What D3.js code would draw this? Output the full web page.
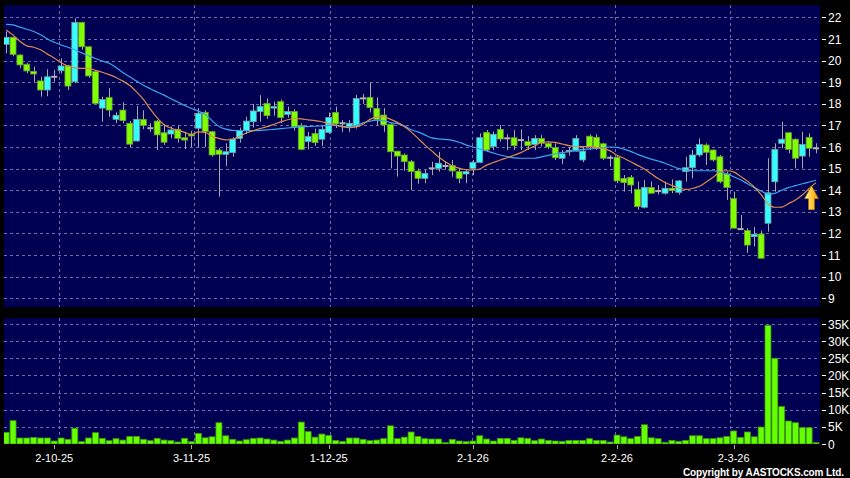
<!DOCTYPE html>
<html><head><meta charset="utf-8">
<script src="https://cdn.jsdelivr.net/npm/d3@7/dist/d3.min.js"></script>
<style>html,body{margin:0;padding:0;background:#000;}svg{display:block;}</style>
</head><body>
<svg id="chart" width="850" height="478"></svg>
<script>
// ---------- data ----------
const openP  = [20.75,21.08,20.26,19.83,19.5,19.06,18.64,19.25,19.53,19.76,19.02,21.77,20.64,19.49,17.8,18.3,17.28,17.71,17.1,16.28,17.28,16.87,17.2,16.66,16.6,16.82,16.43,16.6,16.87,17.6,
16.71,15.86,15.66,15.74,16.4,16.76,17.17,17.64,18.02,17.8,18.1,17.51,17.64,16.99,16.25,16.63,16.36,16.68,17.6,17.1,16.94,16.94,18.25,18.3,17.79,17.48,17.05,15.81,15.63,15.32,
14.89,14.55,15.01,15.01,15.12,15.14,14.86,14.75,15.01,15.29,16.68,16.02,16.82,16.4,16.43,16.32,16.25,16.12,16.4,16.17,15.98,15.48,15.81,15.81,15.4,16.5,16.45,16.15,15.5,15.52,
14.55,14.6,14.04,13.21,14.13,13.96,13.86,14.09,13.9,14.86,15.04,15.63,16.09,15.86,15.55,14.75,13.62,12.2,12.13,11.85,11.97,12.47,14.39,16.17,16.66,16.36,15.58,16.45,15.94];
const highP  = [21.34,21.1,20.3,19.9,19.72,19.25,19.6,19.57,20.1,19.8,21.96,21.8,20.66,19.5,18.33,18.72,17.6,18.07,17.2,17.9,17.7,17.1,17.25,17.07,16.95,17.0,16.7,16.75,17.8,17.7,
16.75,15.95,16.17,16.45,16.9,17.4,18.0,18.4,18.25,18.1,18.2,17.87,17.75,17.1,16.7,16.85,17.02,17.6,17.87,17.25,17.25,18.41,18.45,18.98,18.3,17.8,17.1,15.81,15.7,15.4,
15.0,14.95,15.32,15.78,15.3,15.4,15.01,14.95,15.4,16.63,16.79,16.72,17.02,16.59,16.79,16.82,16.5,16.55,16.55,16.25,16.17,15.86,16.0,16.55,16.0,16.59,16.59,16.2,15.62,15.62,
14.7,14.7,14.4,14.47,14.4,14.24,14.4,14.5,14.47,15.55,15.86,16.4,16.17,15.89,15.63,14.86,13.93,12.85,12.24,12.3,12.13,15.48,16.17,17.17,16.7,16.4,16.7,16.63,16.17];
const lowP   = [20.34,20.2,19.65,19.41,19.02,18.33,18.35,19.03,19.41,18.64,18.95,20.5,19.2,18.0,17.17,17.4,17.1,17.1,16.0,16.25,16.83,16.7,15.86,16.1,16.4,16.2,15.9,16.0,16.0,16.0,
15.55,13.7,15.12,15.55,16.2,16.6,16.9,17.17,17.3,17.45,17.1,17.36,16.76,15.85,15.89,16.05,16.05,16.6,16.88,16.7,16.7,16.85,18.0,17.6,17.0,16.7,15.01,14.63,14.9,14.0,
14.3,14.32,14.7,14.86,14.95,14.62,14.32,14.32,14.7,15.25,15.78,15.86,16.25,15.86,15.86,15.86,15.86,15.86,16.02,15.9,15.4,15.2,15.6,15.78,15.3,15.86,15.86,15.4,15.09,14.32,
13.93,13.86,13.1,13.16,13.86,13.8,13.8,13.86,13.8,14.4,14.55,15.55,15.17,15.32,14.32,13.55,12.24,12.16,11.1,11.4,10.85,12.08,13.93,15.94,15.71,15.01,15.01,15.55,15.71];
const closeP = [21.08,20.29,19.8,19.52,19.38,18.64,19.25,19.25,19.75,18.82,21.77,20.64,19.29,18.02,18.2,17.71,17.47,17.22,16.13,17.28,17.0,16.87,16.56,16.22,16.79,16.4,16.32,16.51,17.56,16.71,
15.63,15.66,15.78,16.37,16.76,17.2,17.67,17.87,17.45,17.87,17.36,17.64,16.94,15.89,16.48,16.2,16.82,17.37,17.07,17.1,17.1,18.25,18.25,17.82,17.28,17.02,15.78,15.58,15.32,14.86,
14.55,14.78,15.01,15.25,15.12,14.89,14.55,14.86,15.29,16.43,15.86,16.59,16.37,16.4,16.06,16.32,16.06,16.4,16.17,16.0,15.5,15.68,15.81,16.4,15.81,16.02,15.96,15.48,15.5,14.43,
14.35,14.24,13.24,14.13,13.86,13.96,14.09,13.98,14.43,15.04,15.63,16.12,15.75,15.4,14.39,14.13,12.24,12.2,11.46,11.96,10.85,13.88,15.89,16.36,15.89,15.48,16.12,15.94,15.94];
const volumeK = [3.4,6.8,1.75,1.75,1.9,1.75,1.75,0.87,1.75,1.35,4.6,0.68,1.75,3.3,1.65,0.97,1.55,1.15,2.2,2.2,1.35,0.97,1.65,1.15,0.97,0.58,1.65,0.68,3.1,1.8,
2.1,6.2,2.4,1.35,0.87,1.25,1.65,1.75,1.45,1.15,0.78,1.15,1.75,6.4,3.6,2.0,2.9,2.5,1.05,0.78,1.75,1.75,1.35,0.97,1.15,1.55,5.3,1.55,2.0,3.5,
2.2,1.55,1.45,1.45,0.39,1.35,0.87,0.68,0.87,2.4,1.45,0.87,1.65,1.65,1.05,1.8,1.65,0.97,1.45,1.05,0.87,0.78,1.05,1.05,1.05,1.55,1.05,1.05,0.58,2.6,
2.1,1.55,2.2,5.6,1.8,1.55,0.49,1.05,0.78,1.05,2.4,2.4,1.55,1.55,1.8,2.2,3.8,1.9,3.5,2.1,4.95,34.6,25.0,10.9,6.7,6.2,4.75,4.75,0.39];
const maShort = [21.42,21.18,20.9,20.68,20.62,20.5,20.3,20.12,19.9,19.75,19.66,19.64,19.64,19.55,19.46,19.35,19.22,19.05,18.85,18.55,18.2,17.75,17.35,17.03,16.88,16.78,16.68,16.58,16.7,16.68,
16.5,16.4,16.33,16.36,16.5,16.65,16.76,16.85,16.94,17.05,17.16,17.26,17.32,17.3,17.26,17.22,17.17,17.08,17.0,16.93,16.9,16.93,17.05,17.28,17.38,17.4,17.28,17.14,16.95,16.7,
16.4,16.1,15.82,15.54,15.32,15.12,15.02,14.95,14.94,14.98,15.16,15.28,15.4,15.5,15.62,15.74,15.9,16.05,16.22,16.24,16.21,16.14,16.06,16.02,16.02,16.02,15.98,15.92,15.82,15.62,
15.48,15.32,15.15,14.98,14.76,14.54,14.36,14.22,14.1,14.04,14.08,14.18,14.38,14.6,14.84,14.9,14.85,14.64,14.42,14.15,13.8,13.37,13.21,13.22,13.38,13.55,13.78,14.08,14.35];
const maLong = [21.68,21.65,21.55,21.45,21.35,21.2,21.0,20.85,20.72,20.62,20.5,20.36,20.23,20.1,19.98,19.88,19.68,19.45,19.25,19.05,18.86,18.7,18.55,18.4,18.23,18.08,17.92,17.78,17.66,17.5,
17.22,16.95,16.83,16.77,16.76,16.76,16.76,16.77,16.79,16.82,16.85,16.88,16.91,16.94,16.95,16.96,16.98,17.0,17.01,16.96,16.95,17.0,17.12,17.2,17.24,17.22,17.13,17.08,16.98,16.8,
16.7,16.56,16.42,16.38,16.35,16.31,16.22,16.1,16.0,15.9,15.82,15.72,15.63,15.56,15.5,15.48,15.48,15.48,15.54,15.61,15.68,15.74,15.79,15.84,15.89,15.91,15.94,15.97,16.0,15.98,
15.9,15.8,15.66,15.54,15.44,15.35,15.25,15.12,15.0,14.94,14.9,14.9,14.9,14.9,14.84,14.76,14.62,14.48,14.3,14.12,13.96,13.82,13.85,14.0,14.12,14.21,14.3,14.38,14.46];
const priceTicks = [9,10,11,12,13,14,15,16,17,18,19,20,21,22];
const volTicks = [0,5,10,15,20,25,30,35];
const volTickLabels = ["0","5K","10K","15K","20K","25K","30K","35K"];
const dateTickIndex = [7,27,47,68,89,106];
const dateTickLabels = ["2-10-25","3-11-25","1-12-25","2-1-26","2-2-26","2-3-26"];
const copyrightText = "Copyright by AASTOCKS.com Ltd.";

// ---------- layout ----------
const svg = d3.select("#chart");
const panelL = 4, panelR = 820;
const mainTop = 5, mainBot = 307, volTop = 318, volBot = 444;
const idx = d3.range(closeP.length);
const x = d3.scaleBand().domain(idx).range([3.2, 819]).paddingInner(0.13);
const cx = i => x(i) + x.bandwidth() / 2;
const gridX = d3.scaleLinear().domain([0, idx.length - 1]).range([11.2, 811.3]);
const y = d3.scaleLinear().domain([9, 22]).range([298.2, 17.4]);
const yv = d3.scaleLinear().domain([0, 35]).range([444, 324]);

const navy = "#000052", gridCol = "#6e6ea6";
const upCol = "#33ffff", dnCol = "#80ff00";

svg.append("rect").attr("width", 850).attr("height", 478).attr("fill", "#000");
svg.append("rect").attr("x", panelL).attr("y", mainTop).attr("width", panelR - panelL).attr("height", mainBot - mainTop).attr("fill", navy);
svg.append("rect").attr("x", panelL).attr("y", volTop).attr("width", panelR - panelL).attr("height", volBot - volTop).attr("fill", navy);

const defs = svg.append("defs");
defs.append("clipPath").attr("id", "clipMain").append("rect")
  .attr("x", panelL).attr("y", mainTop).attr("width", panelR - panelL).attr("height", mainBot - mainTop);
defs.append("clipPath").attr("id", "clipVol").append("rect")
  .attr("x", panelL).attr("y", volTop).attr("width", panelR - panelL).attr("height", volBot - volTop);
const grad = defs.append("linearGradient").attr("id", "arrowGrad").attr("x1", "0").attr("x2", "1").attr("y1", "0").attr("y2", "0");
grad.append("stop").attr("offset", "0%").attr("stop-color", "#fff3b0");
grad.append("stop").attr("offset", "55%").attr("stop-color", "#ffc733");
grad.append("stop").attr("offset", "100%").attr("stop-color", "#e89400");

// grid lines
const grid = svg.append("g").attr("stroke", gridCol).attr("stroke-width", 1).attr("stroke-dasharray", "3,3");
grid.selectAll(".hm").data(priceTicks).join("line")
  .attr("x1", panelL).attr("x2", panelR).attr("y1", d => Math.round(y(d)) + 0.5).attr("y2", d => Math.round(y(d)) + 0.5);
grid.selectAll(".hv").data(volTicks.slice(1)).join("line")
  .attr("x1", panelL).attr("x2", panelR).attr("y1", d => Math.round(yv(d)) + 0.5).attr("y2", d => Math.round(yv(d)) + 0.5);
grid.selectAll(".vm").data(dateTickIndex).join("line")
  .attr("x1", d => Math.round(gridX(d)) + 0.5).attr("x2", d => Math.round(gridX(d)) + 0.5)
  .attr("y1", mainTop).attr("y2", mainBot);
grid.selectAll(".vv").data(dateTickIndex).join("line")
  .attr("x1", d => Math.round(gridX(d)) + 0.5).attr("x2", d => Math.round(gridX(d)) + 0.5)
  .attr("y1", volTop).attr("y2", volBot);

// candles
const cg = svg.append("g").attr("clip-path", "url(#clipMain)");
cg.selectAll(".wick").data(idx).join("line")
  .attr("x1", i => Math.round(cx(i)) + 0.5).attr("x2", i => Math.round(cx(i)) + 0.5)
  .attr("y1", i => y(highP[i])).attr("y2", i => y(lowP[i]))
  .attr("stroke", "#a8a8a8").attr("stroke-width", 1);
const bw = x.bandwidth();
cg.selectAll(".body").data(idx.filter(i => openP[i] !== closeP[i])).join("rect")
  .attr("x", i => x(i)).attr("width", bw)
  .attr("y", i => y(Math.max(openP[i], closeP[i])))
  .attr("height", i => Math.max(1, Math.abs(y(openP[i]) - y(closeP[i]))))
  .attr("fill", i => closeP[i] > openP[i] ? upCol : dnCol)
  .attr("stroke", i => closeP[i] > openP[i] ? "#7a9a9a" : "#6a9a3a").attr("stroke-width", 0.8);
cg.selectAll(".doji").data(idx.filter(i => openP[i] === closeP[i])).join("rect")
  .attr("x", i => x(i)).attr("width", bw)
  .attr("y", i => y(closeP[i]) - 1).attr("height", 2)
  .attr("fill", "#b4b4b4");

// moving averages
const lineGen = arr => d3.line().x((d, i) => cx(i)).y(d => y(d)).curve(d3.curveMonotoneX)(arr);
cg.append("path").attr("d", lineGen(maLong)).attr("fill", "none").attr("stroke", "#3aa6f0").attr("stroke-width", 1.2);
cg.append("path").attr("d", lineGen(maShort)).attr("fill", "none").attr("stroke", "#e08a4c").attr("stroke-width", 1.2);

// arrow marker at the end of the averages
const last = idx.length - 1;
const ax = cx(last) - 4.5, atip = y(maShort[last]) + 3;
const arrowPath = `M${ax},${atip} L${ax + 7},${atip + 13} L${ax + 3},${atip + 13} L${ax + 3},${atip + 24} L${ax - 3},${atip + 24} L${ax - 3},${atip + 13} L${ax - 7},${atip + 13} Z`;
svg.append("path").attr("d", arrowPath).attr("fill", "url(#arrowGrad)").attr("stroke", "#b87000").attr("stroke-width", 0.6);

// volume bars
const vg = svg.append("g").attr("clip-path", "url(#clipVol)");
vg.selectAll(".vol").data(idx).join("rect")
  .attr("x", i => x(i)).attr("width", bw)
  .attr("y", i => yv(volumeK[i])).attr("height", i => Math.max(1, yv(0) - yv(volumeK[i])))
  .attr("fill", "#66ff00").attr("stroke", "#3a9a10").attr("stroke-width", 0.8);

// right axes
const axisFont = "'Liberation Sans', Arial, sans-serif";
const ra = svg.append("g").attr("fill", "#fff").attr("font-family", axisFont).attr("font-size", 12);
ra.selectAll(".pt").data(priceTicks).join("line")
  .attr("x1", 822).attr("x2", 826).attr("y1", d => Math.round(y(d)) + 0.5).attr("y2", d => Math.round(y(d)) + 0.5)
  .attr("stroke", "#fff");
ra.selectAll(".pl").data(priceTicks).join("text")
  .attr("x", 828).attr("y", d => y(d) + 4.5).text(d => d);
ra.selectAll(".vt").data(volTicks).join("line")
  .attr("x1", 822).attr("x2", 826).attr("y1", d => Math.round(yv(d)) + 0.5).attr("y2", d => Math.round(yv(d)) + 0.5)
  .attr("stroke", "#fff");
ra.selectAll(".vl").data(volTicks).join("text")
  .attr("x", 828).attr("y", d => yv(d) + 4.5).text((d, i) => volTickLabels[i]);

// date axis
const da = svg.append("g");
da.selectAll("line").data(dateTickIndex).join("line")
  .attr("x1", i => Math.round(cx(i)) + 0.5).attr("x2", i => Math.round(cx(i)) + 0.5)
  .attr("y1", 445).attr("y2", 449).attr("stroke", "#aaa");
da.selectAll("text").data(dateTickIndex).join("text")
  .attr("x", i => cx(i)).attr("y", 462).attr("text-anchor", "middle")
  .attr("fill", "#fff").attr("font-family", axisFont).attr("font-size", 11)
  .text((d, k) => dateTickLabels[k]);

svg.append("text").attr("x", 683).attr("y", 475.5).attr("fill", "#fff")
  .attr("font-family", axisFont).attr("font-size", 10).attr("font-weight", "bold")
  .attr("textLength", 161).attr("lengthAdjust", "spacing").text(copyrightText);
</script>
</body></html>
